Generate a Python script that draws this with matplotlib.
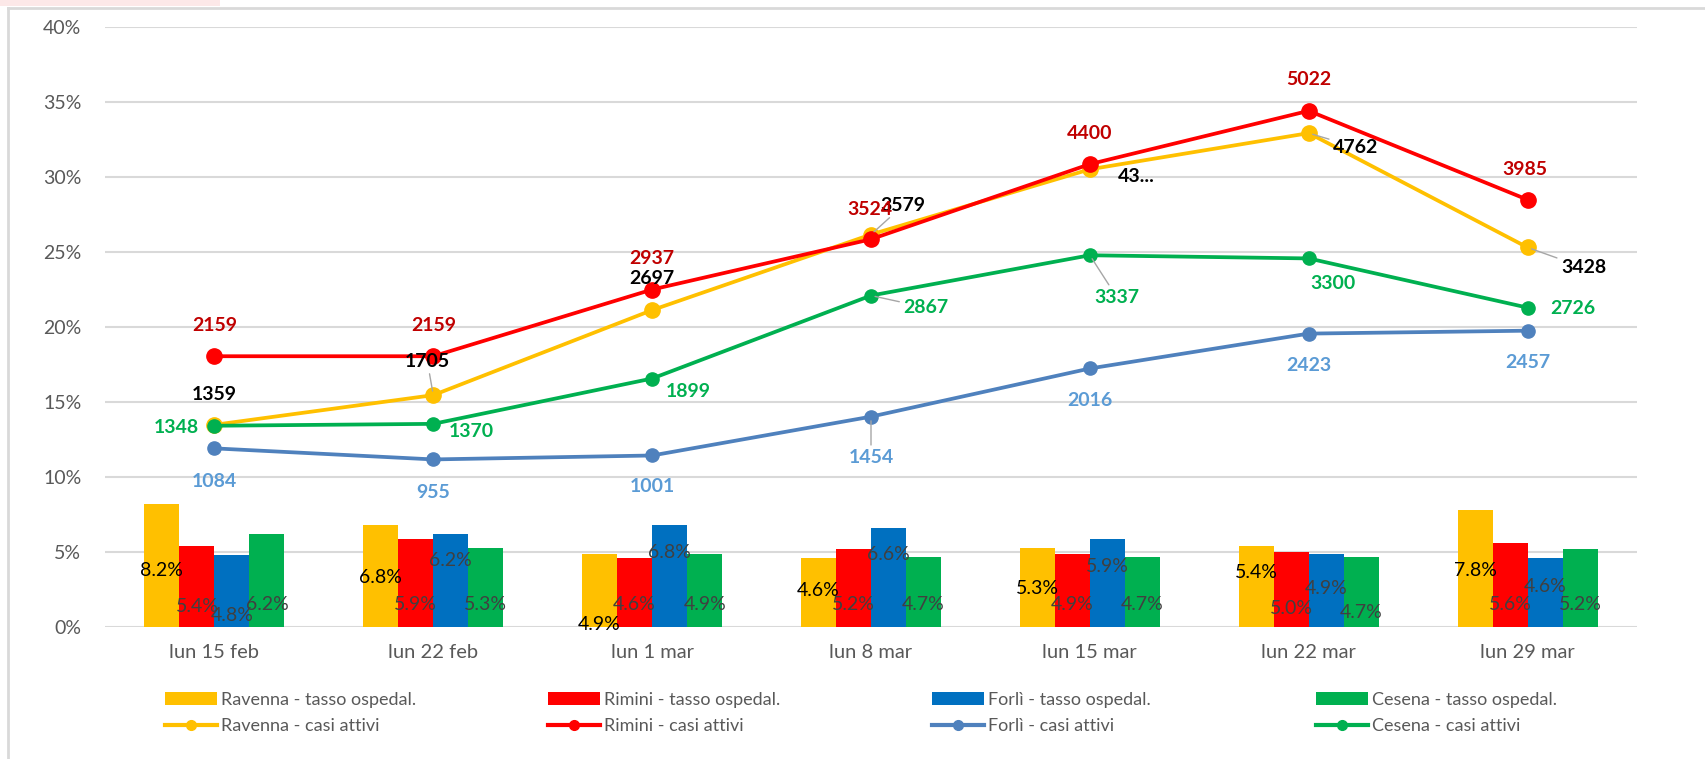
import matplotlib
matplotlib.use("Agg")
import matplotlib.pyplot as plt
from matplotlib.patches import Patch, Rectangle
from matplotlib.lines import Line2D

plt.rcParams["font.family"] = ["Lato", "DejaVu Sans"]

# --- data ---
weeks = ["lun 15 feb", "lun 22 feb", "lun 1 mar", "lun 8 mar",
         "lun 15 mar", "lun 22 mar", "lun 29 mar"]
cities = ["Ravenna", "Rimini", "Forlì", "Cesena"]

# tasso di ospedalizzazione (%)
tasso_ravenna = [8.2, 6.8, 4.9, 4.6, 5.3, 5.4, 7.8]
tasso_rimini = [5.4, 5.9, 4.6, 5.2, 4.9, 5.0, 5.6]
tasso_forli = [4.8, 6.2, 6.8, 6.6, 5.9, 4.9, 4.6]
tasso_cesena = [6.2, 5.3, 4.9, 4.7, 4.7, 4.7, 5.2]

# casi attivi
casi_ravenna = [1359, 1705, 2697, 3579, 4340, 4762, 3428]
casi_rimini = [2159, 2159, 2937, 3524, 4400, 5022, 3985]
casi_forli = [1084, 955, 1001, 1454, 2016, 2423, 2457]
casi_cesena = [1348, 1370, 1899, 2867, 3337, 3300, 2726]

# the Ravenna label at lun 15 mar is cut off in the original
label_ravenna = ["1359", "1705", "2697", "3579", "43...", "4762", "3428"]

# --- layout / style ---
bar_colors = ["#FFC000", "#FF0000", "#0070C0", "#00B050"]
line_colors = ["#FFC000", "#FF0000", "#4F81BD", "#00B050"]
label_colors = ["#000000", "#C00000", "#5B9BD5", "#00B050"]
marker_sizes = [11, 11, 9.5, 9.5]

# y position (in %) of the bar value labels, as placed in the original
bar_label_y = [
    [3.8, 3.3, 0.15, 2.45, 2.55, 3.6, 3.8],
    [1.4, 1.5, 1.5, 1.5, 1.5, 1.25, 1.5],
    [0.75, 4.45, 5.0, 4.8, 4.05, 2.55, 2.7],
    [1.5, 1.5, 1.5, 1.5, 1.5, 1.0, 1.5],
]

# offsets (pixels) of line labels from their points, and whether a leader line is drawn
line_label_offsets = [
    [(0, 30), (-6, 34), (0, 32), (32, 29), (46, -7), (47, -14), (56, -20)],
    [(0, 31), (0, 31), (0, 31), (-1, 30), (0, 31), (0, 31), (-3, 30)],
    [(0, -33), (0, -33), (0, -31), (0, -41), (0, -32), (0, -32), (0, -32)],
    [(-38, -2), (38, -8), (36, -13), (55, -12), (27, -42), (24, -25), (45, -1)],
]
leaders = [
    [False, True, False, True, False, True, True],
    [False] * 7,
    [False, False, False, True, False, False, False],
    [False, False, False, True, True, False, False],
]

tassi = [tasso_ravenna, tasso_rimini, tasso_forli, tasso_cesena]
casi = [casi_ravenna, casi_rimini, casi_forli, casi_cesena]
labels_casi = [label_ravenna, [str(v) for v in casi_rimini],
               [str(v) for v in casi_forli], [str(v) for v in casi_cesena]]

W, H = 1706, 759
fig = plt.figure(figsize=(W / 100, H / 100), dpi=100)
ax = fig.add_axes([105 / W, 1 - 627 / H, (1637 - 105) / W, 600 / H])

x = list(range(len(weeks)))
bw = 0.16
for k, (city, vals) in enumerate(zip(cities, tassi)):
    off = (k - 1.5) * bw
    xs = [i + off for i in x]
    ax.bar(xs, vals, width=bw, color=bar_colors[k], zorder=2)
    col = "#000000" if k == 0 else "#404040"
    for xi, v, ly in zip(xs, vals, bar_label_y[k]):
        ax.text(xi, ly, f"{v:.1f}%", ha="center", va="center",
                fontsize=14, color=col, zorder=3)

ax.set_xlim(-0.5, len(weeks) - 0.5)
ax.set_ylim(0, 40)
ax.set_yticks(range(0, 41, 5))
ax.set_yticklabels([f"{t}%" for t in range(0, 41, 5)])
ax.set_xticks(x)
ax.set_xticklabels(weeks)
ax.tick_params(axis="y", length=0, pad=17, labelsize=14, labelcolor="#595959")
ax.tick_params(axis="x", length=0, pad=12, labelsize=14.5, labelcolor="#595959")
ax.yaxis.grid(True, color="#D9D9D9", lw=1.5)
ax.set_axisbelow(True)
for s in ax.spines.values():
    s.set_visible(False)

# secondary (hidden) axis for the active cases
ax2 = ax.twinx()
ax2.set_ylim(-1000, 6000)
ax2.set_yticks([])
for s in ax2.spines.values():
    s.set_visible(False)

for k in range(4):
    ax2.plot(x, casi[k], color=line_colors[k], lw=2.7, marker="o",
             markersize=marker_sizes[k], zorder=3)
    for i, v in enumerate(casi[k]):
        dx, dy = line_label_offsets[k][i]
        arrow = None
        if leaders[k][i]:
            arrow = dict(arrowstyle="-", color="#A6A6A6", lw=1, shrinkA=1, shrinkB=3)
        ax2.annotate(labels_casi[k][i], xy=(i, v), xytext=(dx, dy),
                     textcoords="offset pixels", ha="center", va="center",
                     fontsize=14, fontweight="bold", color=label_colors[k],
                     arrowprops=arrow, zorder=4)

# legends: one block of two entries per city
legend_x = [165, 548, 932, 1316]
for k, city in enumerate(cities):
    handles = [
        Patch(facecolor=bar_colors[k], edgecolor="none"),
        Line2D([], [], color=line_colors[k], lw=3, marker="o", markersize=7),
    ]
    fig.legend(handles, [f"{city} - tasso ospedal.", f"{city} - casi attivi"],
               loc="center left", bbox_to_anchor=(legend_x[k] / W, 1 - 713 / H),
               frameon=False, fontsize=13, labelcolor="#595959",
               handlelength=2.9, handleheight=0.75, handletextpad=0.2,
               borderpad=0, borderaxespad=0, labelspacing=0.55)

# chart frame and the clipped header strip
fig.add_artist(Line2D([8 / W, 8 / W], [0, 1 - 8 / H], color="#D9D9D9", lw=2,
                      transform=fig.transFigure))
fig.add_artist(Line2D([8 / W, 1], [1 - 8 / H, 1 - 8 / H], color="#D9D9D9", lw=2,
                      transform=fig.transFigure))
fig.add_artist(Rectangle((0, 1 - 6 / H), 220 / W, 6 / H, facecolor="#FCE8E8",
                         edgecolor="none", transform=fig.transFigure))

fig.savefig("out.png", dpi=100)
